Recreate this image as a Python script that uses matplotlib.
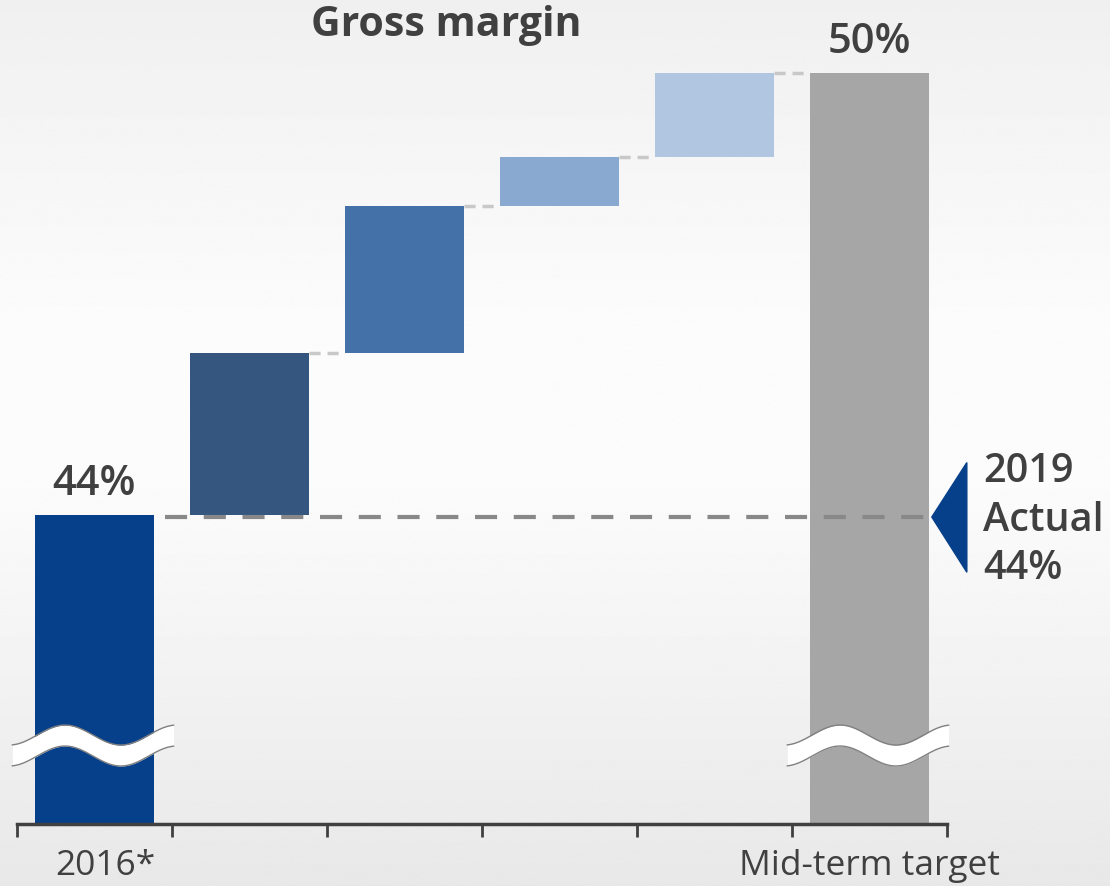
import numpy as np
import matplotlib.pyplot as plt
from matplotlib.patches import Polygon
from matplotlib.transforms import ScaledTranslation

plt.rcParams['font.family'] = ['Open Sans', 'DejaVu Sans']

# data
categories = ['2016*', '', '', '', '', 'Mid-term target']
start_value = 44.0
steps = [2.2, 2.0, 0.66, 1.14]
target_value = 50.0
actual_2019 = 44
axis_floor = 39.8
axis_top = 50.45

bar_colors = ['#06408a', '#34567f', '#4571a9', '#89a9d0', '#b0c6e1', '#a6a6a6']
text_color = '#404040'

fig = plt.figure(figsize=(11.1, 8.86), dpi=100)

# background gradient
bg = fig.add_axes([0, 0, 1, 1], zorder=-5)
stops_y = [0.0, 0.35, 0.55, 1.0]
stops_v = [0.94, 0.985, 0.985, 0.91]
yy = np.linspace(0, 1, 400)
grad = np.interp(yy, stops_y, stops_v)[:, None]
bg.imshow(grad, cmap='gray', vmin=0, vmax=1, aspect='auto', extent=[0, 1, 1, 0])
bg.set_axis_off()

ax = fig.add_axes([17 / 1110, 62 / 886, 930 / 1110, 784 / 886])
ax.set_facecolor('none')

x = np.arange(len(categories))
width = 0.774

# cumulative waterfall
levels = np.concatenate([[start_value], start_value + np.cumsum(steps)])
bottoms = [axis_floor] + list(levels[:-1]) + [axis_floor]
heights = [start_value - axis_floor] + steps + [target_value - axis_floor]
ax.bar(x, heights, bottom=bottoms, width=width, color=bar_colors, zorder=2)

# light connectors between steps
for i in range(1, len(levels)):
    ax.plot([x[i] + width / 2, x[i + 1] - width / 2], [levels[i], levels[i]],
            color='#c8c8c8', lw=2.5, ls=(0, (3.2, 2)), zorder=1)

# 2019 actual reference line + marker
tip_x = x[-1] + width / 2 + 0.015
ax.plot([x[0] + width / 2 + 0.065, tip_x], [actual_2019 - 0.03, actual_2019 - 0.03],
        color='#888888', lw=3, ls=(0, (5.3, 4)), zorder=3)
tri = Polygon([[tip_x, actual_2019 - 0.03], [tip_x + 0.226, actual_2019 + 0.71],
               [tip_x + 0.226, actual_2019 - 0.78]], closed=True,
              color='#06408a', clip_on=False, zorder=4)
ax.add_patch(tri)
ax.text(tip_x + 0.33, actual_2019 - 0.08, f'2019\nActual\n{actual_2019}%',
        ha='left', va='center', fontsize=28.5, fontweight='semibold',
        color=text_color, linespacing=1.28, clip_on=False)

# axis break symbols on first and last bar
rel = np.linspace(-0.53, 0.51, 200)
px_per_unit = 73.7
center = 40.866 + (10 / px_per_unit) * np.cos(2 * np.pi * (rel + 0.19) / 0.72)
half = 10.5 / px_per_unit
for xc in [x[0], x[-1]]:
    ax.fill_between(xc + rel, center - half, center + half, color='white',
                    lw=0, zorder=5, clip_on=False)
    ax.plot(xc + rel, center - half, color='#808080', lw=1, zorder=6, clip_on=False)
    ax.plot(xc + rel, center + half, color='#808080', lw=1, zorder=6, clip_on=False)

# value labels
ax.annotate(f'{start_value:.0f}%', (x[0], start_value), xytext=(0, 7),
            textcoords='offset points', ha='center', va='bottom',
            fontsize=30, fontweight='semibold', color=text_color)
ax.annotate(f'{target_value:.0f}%', (x[-1], target_value), xytext=(0, 7),
            textcoords='offset points', ha='center', va='bottom',
            fontsize=30, fontweight='semibold', color=text_color)

fig.text(446 / 1110, 1 - 25 / 886, 'Gross margin', ha='center', va='center',
         fontsize=29.5, fontweight='bold', color=text_color)

ax.set_xlim(-0.5, len(categories) - 0.5)
ax.set_ylim(axis_floor, axis_top)
for s in ['top', 'right', 'left']:
    ax.spines[s].set_visible(False)
ax.spines['bottom'].set_color(text_color)
ax.spines['bottom'].set_linewidth(2.5)
ax.set_yticks([])
ax.set_xticks(x)
ax.set_xticklabels(categories, fontsize=25.5, color=text_color)
ax.tick_params(axis='x', which='major', length=0, pad=18)
ax.set_xticks(np.arange(-0.5, len(categories)), minor=True)
ax.tick_params(axis='x', which='minor', length=9, width=2, color=text_color,
               direction='out')

# nudge the first label to the right, as in the original
lbl = ax.get_xticklabels()[0]
lbl.set_transform(lbl.get_transform() + ScaledTranslation(0.11, 0, fig.dpi_scale_trans))

fig.savefig('out.png', dpi=100)
